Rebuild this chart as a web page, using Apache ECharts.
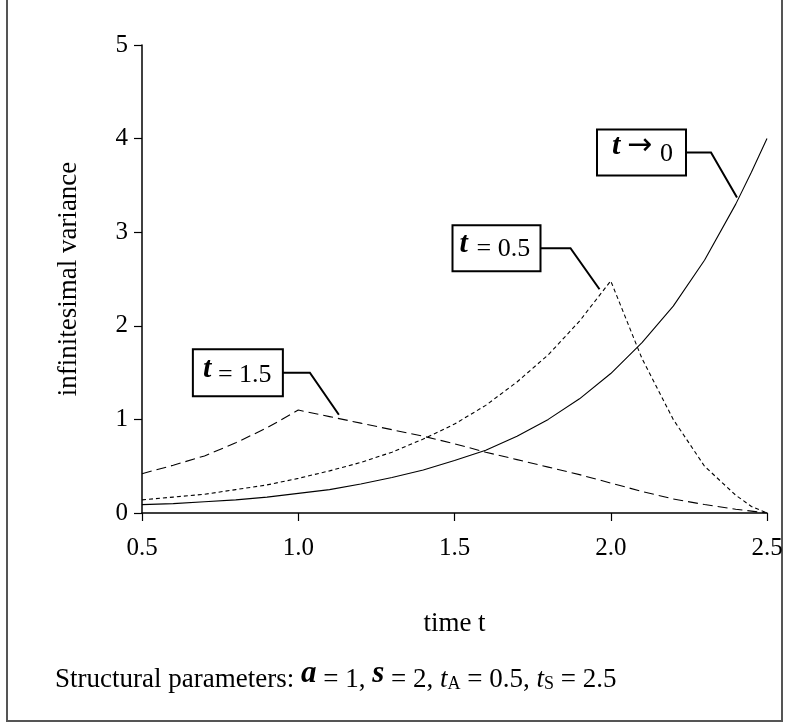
<!DOCTYPE html>
<html>
<head>
<meta charset="utf-8">
<script src="https://cdn.jsdelivr.net/npm/echarts@6/dist/echarts.min.js"></script>
<style>
html,body{margin:0;padding:0;background:#fff;}
#chart{width:790px;height:724px;}
</style>
</head>
<body>
<div id="chart"></div>
<script>
// ---- data ----
var times = [0.5,0.6,0.7,0.8,0.9,1.0,1.1,1.2,1.3,1.4,1.5,1.6,1.7,1.8,1.9,2.0,2.1,2.2,2.3,2.4,2.45,2.5];
var tauZero   = [0.09,0.10,0.12,0.14,0.17,0.21,0.25,0.31,0.38,0.46,0.56,0.67,0.82,1.00,1.22,1.49,1.82,2.21,2.70,3.30,3.64,4.00];
var tauHalf   = [0.14,0.17,0.20,0.25,0.30,0.37,0.45,0.54,0.65,0.79,0.95,1.15,1.40,1.69,2.05,2.48,1.65,1.00,0.50,0.19,0.07,0.00];
var tauOneHalf= [0.42,0.51,0.61,0.75,0.91,1.10,1.03,0.96,0.89,0.82,0.74,0.65,0.57,0.49,0.41,0.32,0.23,0.15,0.09,0.04,0.02,0.00];
var xTicks = [0.5,1.0,1.5,2.0,2.5];
var yTicks = [0,1,2,3,4,5];
var xLabel = 'time t';
var yLabel = 'infinitesimal variance';
var seriesNames = ['t \u2192 0','t = 0.5','t = 1.5'];
// annotation anchors (data coords where leader lines end)
var annAnchors = [[2.404,3.37],[1.964,2.39],[1.13,1.05]];

function pairs(vals){ return times.map(function(t,i){ return [t, vals[i]]; }); }

var serif = 'Liberation Serif';
var chart = echarts.init(document.getElementById('chart'), null, {renderer:'canvas'});

var axisCommon = {
  axisLine:{show:true, lineStyle:{color:'#000', width:1.5}},
  axisTick:{show:true, inside:false, length:8, lineStyle:{color:'#000', width:1.2}},
  splitLine:{show:false},
  nameTextStyle:{fontFamily:serif, fontSize:27, color:'#000'}
};

var option = {
  animation:false,
  backgroundColor:'#fff',
  grid:{left:142, right:23, top:45, bottom:211, containLabel:false},
  xAxis: Object.assign({}, axisCommon, {
    type:'value', min:xTicks[0], max:xTicks[xTicks.length-1], interval:0.5,
    name:xLabel, nameLocation:'middle', nameGap:97,
    axisLabel:{fontFamily:serif, fontSize:25, color:'#000', margin:23,
      formatter:function(v){ return v.toFixed(1); }}
  }),
  yAxis: Object.assign({}, axisCommon, {
    type:'value', min:yTicks[0], max:yTicks[yTicks.length-1], interval:1,
    name:yLabel, nameLocation:'middle', nameGap:60, nameRotate:90,
    nameTextStyle:{fontFamily:serif, fontSize:27, color:'#000'},
    axisLabel:{fontFamily:serif, fontSize:25, color:'#000', margin:14}
  }),
  series:[
    {name:seriesNames[0], type:'line', data:pairs(tauZero), showSymbol:false, smooth:false,
      lineStyle:{color:'#000', width:1.1, type:'solid'}},
    {name:seriesNames[1], type:'line', data:pairs(tauHalf), showSymbol:false, smooth:false,
      lineStyle:{color:'#000', width:1.1, type:[4,3]}},
    {name:seriesNames[2], type:'line', data:pairs(tauOneHalf), showSymbol:false, smooth:false,
      lineStyle:{color:'#000', width:1.1, type:[10,5]}}
  ]
};
chart.setOption(option);

// annotation layout (pixel offsets relative to leader end)
var annLayout = [
  {dx:-26, dy:-45, seg:25, w:89, h:46, tX:15, tY:17, restX:30, restY:17, tailX:63, tailY:25},
  {dx:-29, dy:-41, seg:30, w:88, h:46, tX:7,  tY:19, restX:24, restY:24, tailX:0, tailY:0},
  {dx:-29, dy:-42, seg:27, w:90, h:47, tX:10, tY:20, restX:25, restY:26, tailX:0, tailY:0}
];
var annTexts = [
  {rest:'\u2192', tail:'0'},
  {rest:'= 0.5', tail:''},
  {rest:'= 1.5', tail:''}
];
var graphics = [];
// outer frame
graphics.push({type:'rect', shape:{x:7, y:-5, width:775, height:726},
  style:{fill:null, stroke:'#555', lineWidth:2}, silent:true});

annAnchors.forEach(function(a, i){
  var L = annLayout[i];
  var p = chart.convertToPixel({gridIndex:0}, a);
  var ex = p[0], ey = p[1];
  var elbowX = ex + L.dx, elbowY = ey + L.dy;
  var boxR = elbowX - L.seg;
  var boxX = boxR - L.w, boxY = elbowY - L.h/2;
  graphics.push({type:'polyline', shape:{points:[[boxR,elbowY],[elbowX,elbowY],[ex,ey]]},
    style:{stroke:'#000', lineWidth:2, fill:null}, silent:true});
  graphics.push({type:'rect', shape:{x:boxX, y:boxY, width:L.w, height:L.h},
    style:{fill:'#fff', stroke:'#000', lineWidth:2}, silent:true});
  var t = annTexts[i];
  graphics.push({type:'text', x:boxX+L.tX, y:boxY+L.tY,
    style:{text:'t', fontFamily:serif, fontStyle:'italic', fontWeight:'bold', fontSize:30,
      fill:'#000', verticalAlign:'middle', align:'left'}, silent:true});
  if (t.tail) {
    graphics.push({type:'text', x:boxX+L.restX, y:boxY+L.restY,
      style:{text:t.rest, fontFamily:'DejaVu Sans', fontSize:30, fill:'#000', verticalAlign:'middle', align:'left'}, silent:true});
    graphics.push({type:'text', x:boxX+L.tailX, y:boxY+L.tailY,
      style:{text:t.tail, fontFamily:serif, fontSize:26, fill:'#000', verticalAlign:'middle', align:'left'}, silent:true});
  } else {
    graphics.push({type:'text', x:boxX+L.restX, y:boxY+L.restY,
      style:{text:t.rest, fontFamily:serif, fontSize:26, fill:'#000', verticalAlign:'middle', align:'left'}, silent:true});
  }
});

// footnote
graphics.push({type:'text', x:55, y:693, silent:true,
  style:{
    text:'{r|Structural parameters: }{g|a}{r| = 1, }{g|s}{r| = 2, }{i|t}{sub|A}{r| = 0.5, }{i|t}{sub|S}{r| = 2.5}',
    align:'left', verticalAlign:'bottom',
    rich:{
      r:{fontFamily:serif, fontSize:27, fill:'#000', verticalAlign:'bottom', lineHeight:30},
      g:{fontFamily:serif, fontSize:31, fontStyle:'italic', fontWeight:'bold', fill:'#000', verticalAlign:'bottom', lineHeight:34, padding:[0,0,4,0]},
      i:{fontFamily:serif, fontSize:27, fontStyle:'italic', fill:'#000', verticalAlign:'bottom', lineHeight:30},
      sub:{fontFamily:serif, fontSize:18, fill:'#000', verticalAlign:'bottom', lineHeight:24}
    }
  }});

chart.setOption({graphic:graphics});
</script>
</body>
</html>
